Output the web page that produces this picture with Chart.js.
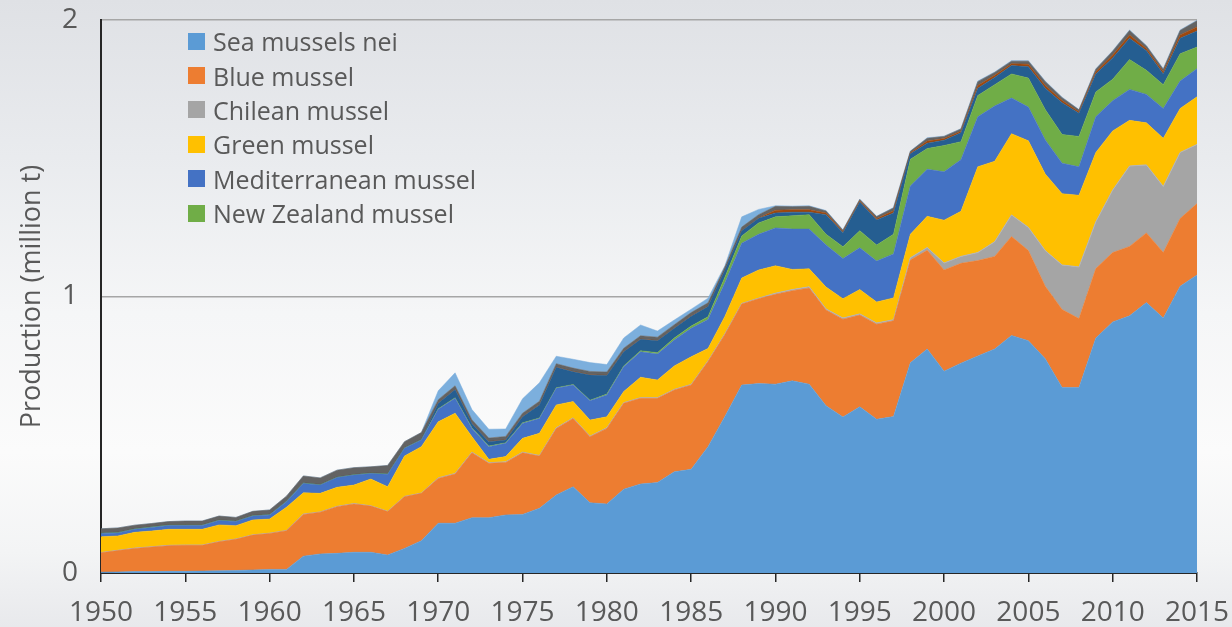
<!DOCTYPE html>
<html>
<head>
<meta charset="utf-8">
<script src="https://cdn.jsdelivr.net/npm/chart.js@4.4.1/dist/chart.umd.min.js"></script>
<style>
  html, body { margin: 0; padding: 0; }
  body {
    width: 1232px; height: 627px; overflow: hidden; position: relative;
    background: linear-gradient(to bottom, #dfe1e5 0%, #e9ebee 25%, #f5f6f7 50%, #fbfbfb 72%, #f3f4f5 88%, #e8e9ec 100%);
    font-family: "Open Sans", sans-serif;
  }
  #wrap { position: absolute; left: 0; top: 0; width: 1232px; height: 627px; }
  #legend { position: absolute; left: 188px; top: 24px; }
  .row { display: flex; align-items: center; height: 34.4px; font-size: 25px; color: #595959; }
  .box { width: 17px; height: 17px; margin-right: 8px; }
</style>
</head>
<body>
<div id="wrap"><canvas id="chart" width="1232" height="627"></canvas></div>
<div id="legend"></div>
<script>
const years = [
  1950, 1951, 1952, 1953, 1954, 1955, 1956, 1957, 1958, 1959,
  1960, 1961, 1962, 1963, 1964, 1965, 1966, 1967, 1968, 1969,
  1970, 1971, 1972, 1973, 1974, 1975, 1976, 1977, 1978, 1979,
  1980, 1981, 1982, 1983, 1984, 1985, 1986, 1987, 1988, 1989,
  1990, 1991, 1992, 1993, 1994, 1995, 1996, 1997, 1998, 1999,
  2000, 2001, 2002, 2003, 2004, 2005, 2006, 2007, 2008, 2009,
  2010, 2011, 2012, 2013, 2014, 2015
];

// production, million t
const seaMusselsNei = [
  0.003, 0.004, 0.005, 0.005, 0.006, 0.006, 0.007, 0.008, 0.009, 0.011,
  0.013, 0.013, 0.061, 0.069, 0.071, 0.075, 0.075, 0.065, 0.089, 0.117,
  0.180, 0.180, 0.200, 0.200, 0.210, 0.212, 0.234, 0.282, 0.312, 0.254,
  0.250, 0.303, 0.322, 0.327, 0.366, 0.375, 0.457, 0.566, 0.680, 0.685,
  0.683, 0.695, 0.683, 0.605, 0.564, 0.601, 0.556, 0.566, 0.760, 0.810,
  0.730, 0.759, 0.785, 0.810, 0.859, 0.840, 0.775, 0.671, 0.671, 0.850,
  0.908, 0.930, 0.978, 0.922, 1.037, 1.078
];
const blueMussel = [
  0.070, 0.077, 0.084, 0.089, 0.093, 0.094, 0.093, 0.105, 0.113, 0.126,
  0.130, 0.140, 0.151, 0.151, 0.169, 0.175, 0.167, 0.157, 0.187, 0.171,
  0.162, 0.178, 0.235, 0.197, 0.190, 0.223, 0.189, 0.241, 0.247, 0.239,
  0.273, 0.311, 0.310, 0.305, 0.296, 0.305, 0.308, 0.297, 0.293, 0.307,
  0.325, 0.326, 0.348, 0.346, 0.354, 0.332, 0.344, 0.346, 0.372, 0.357,
  0.366, 0.361, 0.345, 0.335, 0.358, 0.326, 0.262, 0.282, 0.249, 0.251,
  0.251, 0.251, 0.252, 0.237, 0.245, 0.258
];
const chileanMussel = [
  0.001, 0.001, 0.001, 0.001, 0.001, 0.001, 0.001, 0.001, 0.001, 0.001,
  0.001, 0.001, 0.001, 0.001, 0.001, 0.001, 0.001, 0.001, 0.001, 0.001,
  0.002, 0.002, 0.002, 0.002, 0.002, 0.002, 0.002, 0.002, 0.002, 0.002,
  0.002, 0.002, 0.002, 0.002, 0.002, 0.002, 0.002, 0.002, 0.002, 0.002,
  0.004, 0.004, 0.004, 0.004, 0.004, 0.004, 0.004, 0.004, 0.008, 0.010,
  0.025, 0.025, 0.029, 0.053, 0.078, 0.084, 0.129, 0.161, 0.187, 0.169,
  0.226, 0.291, 0.246, 0.239, 0.239, 0.214
];
const greenMussel = [
  0.057, 0.052, 0.057, 0.057, 0.058, 0.057, 0.057, 0.060, 0.048, 0.054,
  0.051, 0.084, 0.077, 0.067, 0.069, 0.067, 0.097, 0.089, 0.146, 0.168,
  0.203, 0.218, 0.056, 0.012, 0.019, 0.050, 0.080, 0.083, 0.059, 0.058,
  0.040, 0.040, 0.074, 0.064, 0.085, 0.100, 0.045, 0.063, 0.092, 0.102,
  0.099, 0.073, 0.065, 0.079, 0.070, 0.088, 0.076, 0.079, 0.085, 0.113,
  0.155, 0.163, 0.310, 0.291, 0.294, 0.313, 0.277, 0.258, 0.259, 0.251,
  0.214, 0.165, 0.152, 0.174, 0.159, 0.172
];
const mediterraneanMussel = [
  0.012, 0.011, 0.011, 0.013, 0.014, 0.014, 0.014, 0.016, 0.015, 0.014,
  0.015, 0.020, 0.034, 0.030, 0.035, 0.036, 0.020, 0.045, 0.028, 0.024,
  0.045, 0.054, 0.030, 0.046, 0.048, 0.054, 0.054, 0.060, 0.060, 0.070,
  0.079, 0.090, 0.092, 0.094, 0.094, 0.103, 0.105, 0.122, 0.126, 0.129,
  0.137, 0.146, 0.144, 0.152, 0.145, 0.151, 0.148, 0.159, 0.175, 0.170,
  0.175, 0.187, 0.181, 0.200, 0.129, 0.122, 0.123, 0.110, 0.103, 0.129,
  0.109, 0.112, 0.103, 0.108, 0.099, 0.102
];
const newZealandMussel = [
  0.001, 0.001, 0.001, 0.001, 0.001, 0.001, 0.001, 0.001, 0.001, 0.001,
  0.001, 0.001, 0.001, 0.001, 0.001, 0.001, 0.001, 0.001, 0.001, 0.001,
  0.002, 0.002, 0.002, 0.002, 0.002, 0.002, 0.002, 0.002, 0.002, 0.002,
  0.003, 0.003, 0.004, 0.005, 0.007, 0.008, 0.010, 0.020, 0.026, 0.041,
  0.040, 0.048, 0.052, 0.039, 0.043, 0.062, 0.058, 0.071, 0.096, 0.075,
  0.095, 0.065, 0.077, 0.077, 0.087, 0.105, 0.110, 0.104, 0.110, 0.090,
  0.078, 0.108, 0.087, 0.086, 0.099, 0.078
];
// species not shown in the legend
const otherA = [
  0.001, 0.001, 0.001, 0.001, 0.001, 0.001, 0.001, 0.001, 0.001, 0.001,
  0.001, 0.001, 0.001, 0.001, 0.001, 0.001, 0.001, 0.001, 0.001, 0.001,
  0.020, 0.030, 0.016, 0.016, 0.010, 0.022, 0.047, 0.074, 0.046, 0.091,
  0.067, 0.051, 0.041, 0.043, 0.035, 0.036, 0.037, 0.026, 0.019, 0.017,
  0.014, 0.013, 0.009, 0.071, 0.051, 0.104, 0.091, 0.077, 0.020, 0.019,
  0.019, 0.032, 0.026, 0.026, 0.030, 0.041, 0.077, 0.115, 0.084, 0.065,
  0.077, 0.077, 0.071, 0.039, 0.056, 0.058
];
const otherB = [
  0, 0, 0, 0, 0, 0, 0, 0, 0, 0,
  0, 0, 0, 0, 0, 0, 0, 0, 0, 0,
  0.001, 0.001, 0.001, 0.001, 0.001, 0.001, 0.001, 0.001, 0.001, 0.001,
  0.001, 0.001, 0.001, 0.001, 0.001, 0.001, 0.001, 0.001, 0.001, 0.001,
  0.010, 0.009, 0.009, 0.006, 0.004, 0.004, 0.005, 0.008, 0.004, 0.008,
  0.006, 0.006, 0.010, 0.008, 0.007, 0.009, 0.010, 0.008, 0.005, 0.008,
  0.010, 0.012, 0.008, 0.008, 0.012, 0.015
];
const otherC = [
  0.015, 0.016, 0.013, 0.012, 0.012, 0.014, 0.014, 0.014, 0.013, 0.015,
  0.016, 0.018, 0.025, 0.024, 0.025, 0.025, 0.022, 0.030, 0.022, 0.025,
  0.012, 0.012, 0.012, 0.012, 0.012, 0.012, 0.012, 0.012, 0.012, 0.012,
  0.012, 0.012, 0.012, 0.012, 0.012, 0.012, 0.012, 0.010, 0.012, 0.012,
  0.014, 0.011, 0.012, 0.007, 0.005, 0.005, 0.007, 0.010, 0.005, 0.010,
  0.008, 0.008, 0.014, 0.010, 0.009, 0.011, 0.014, 0.010, 0.007, 0.009,
  0.014, 0.016, 0.009, 0.009, 0.016, 0.022
];
const otherD = [
  0, 0, 0, 0, 0, 0, 0, 0, 0, 0,
  0, 0, 0, 0, 0, 0, 0, 0, 0, 0,
  0.032, 0.047, 0.037, 0.032, 0.027, 0.052, 0.067, 0.027, 0.032, 0.032,
  0.027, 0.037, 0.039, 0.022, 0.017, 0.012, 0.017, 0.004, 0.037, 0.019,
  0.002, 0.002, 0.002, 0.002, 0.001, 0.001, 0.001, 0.002, 0.001, 0.002,
  0.001, 0.001, 0.002, 0.002, 0.002, 0.002, 0.002, 0.002, 0.001, 0.002,
  0.002, 0.002, 0.002, 0.002, 0.002, 0.002
];

const seriesLabels = [
  "Sea mussels nei", "Blue mussel", "Chilean mussel", "Green mussel",
  "Mediterranean mussel", "New Zealand mussel", "Other 1", "Other 2", "Other 3", "Other 4"
];
const seriesData = [
  seaMusselsNei, blueMussel, chileanMussel, greenMussel, mediterraneanMussel,
  newZealandMussel, otherA, otherB, otherC, otherD
];
const seriesColors = [
  "#5B9BD5", "#ED7D31", "#A5A5A5", "#FFC000", "#4472C4",
  "#70AD47", "#255E91", "#9E480E", "#636363", "#7CAFDD"
];
const legendCount = 6;

const datasets = seriesData.map((values, i) => ({
  label: seriesLabels[i],
  data: values,
  backgroundColor: seriesColors[i],
  borderColor: i === 2 ? "#b5b5b5" : seriesColors[i],
  borderWidth: i === 2 ? 1 : 0.5,
  pointRadius: 0,
  tension: 0,
  fill: i === 0 ? "origin" : "-1",
}));

const legendEl = document.getElementById("legend");
for (let i = 0; i < legendCount; i++) {
  const row = document.createElement("div");
  row.className = "row";
  const box = document.createElement("span");
  box.className = "box";
  box.style.background = seriesColors[i];
  const text = document.createElement("span");
  text.textContent = seriesLabels[i];
  row.appendChild(box);
  row.appendChild(text);
  legendEl.appendChild(row);
}

Chart.defaults.font.family = '"Open Sans", sans-serif';

new Chart(document.getElementById("chart"), {
  type: "line",
  data: { labels: years, datasets },
  options: {
    responsive: false,
    animation: false,
    layout: { padding: { left: 16, top: 20, right: 35, bottom: 0 } },
    plugins: { legend: { display: false }, tooltip: { enabled: false } },
    scales: {
      x: {
        type: "category",
        offset: false,
        grid: {
          drawOnChartArea: false,
          drawTicks: true,
          tickLength: 9,
          lineWidth: 1.5,
          color: (ctx) => (years[ctx.index] % 5 === 0 ? "#262626" : "rgba(0,0,0,0)"),
        },
        border: { color: "#262626", width: 2 },
        ticks: {
          autoSkip: false,
          maxRotation: 0,
          padding: 0,
          color: "#595959",
          font: { size: 28, lineHeight: 2.2 },
          callback: (value, index) => (years[index] % 5 === 0 ? String(years[index]) : ""),
        },
        afterFit: (scale) => { scale.height = 54; },
      },
      y: {
        stacked: true,
        min: 0,
        max: 2,
        ticks: { stepSize: 1, padding: 0, color: "#595959", font: { size: 28 } },
        grid: {
          drawTicks: true,
          tickLength: 23,
          tickColor: "rgba(0,0,0,0)",
          lineWidth: 1.5,
          color: (ctx) => (ctx.tick.value === 0 ? "rgba(0,0,0,0)" : "#a6a6a6"),
        },
        border: { color: "#262626", width: 2 },
        title: {
          display: true,
          text: "Production (million t)",
          color: "#595959",
          font: { size: 27 },
          padding: 0,
        },
        afterFit: (scale) => { scale.width = 85; },
      },
    },
  },
});
</script>
</body>
</html>
